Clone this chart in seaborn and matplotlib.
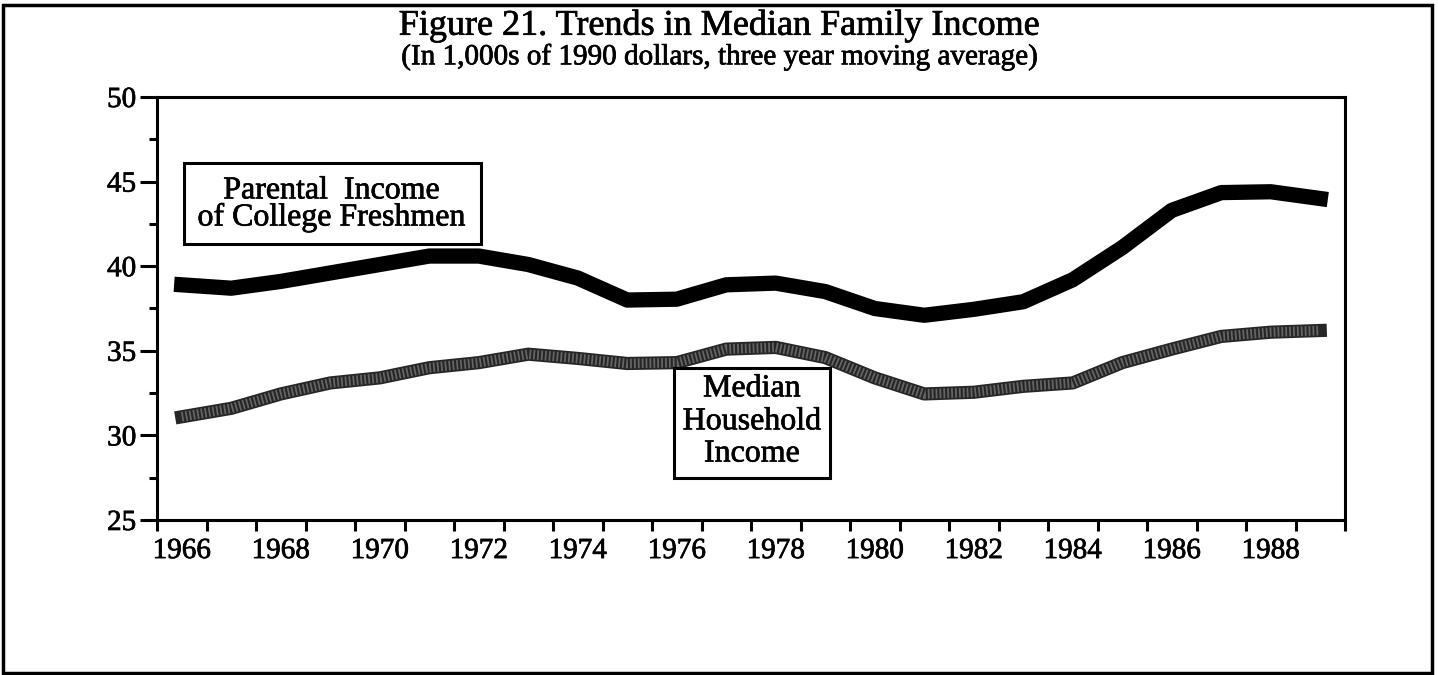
import numpy as np
import matplotlib
matplotlib.use("Agg")
import matplotlib.pyplot as plt
import matplotlib.patheffects as pe
import seaborn as sns
from matplotlib.patches import Rectangle

# values (1,000s of 1990 dollars)
years = list(range(1966, 1990))
parental_income = [38.9, 38.7, 39.1, 39.6, 40.1, 40.6, 40.6, 40.1, 39.3, 38.0,
                   38.05, 38.9, 39.0, 38.5, 37.5, 37.1, 37.45, 37.9, 39.2, 41.1,
                   43.3, 44.35, 44.4, 44.0]
household_income = [31.1, 31.6, 32.45, 33.1, 33.4, 34.0, 34.3, 34.8, 34.55, 34.25,
                     34.3, 35.1, 35.2, 34.6, 33.4, 32.45, 32.55, 32.9, 33.1, 34.3,
                     35.1, 35.85, 36.1, 36.2]
year_labels = ["1966", "1968", "1970", "1972", "1974", "1976",
               "1978", "1980", "1982", "1984", "1986", "1988"]
y_ticks = [25, 30, 35, 40, 45, 50]

sns.set_style("white")
plt.rcParams['font.family'] = ['Liberation Serif', 'DejaVu Serif']
plt.rcParams['text.color'] = 'black'
plt.rcParams['xtick.color'] = 'black'
plt.rcParams['ytick.color'] = 'black'

# slightly thicker glyphs, closer to the photocopied type
heavy = [pe.withStroke(linewidth=0.5, foreground='black')]

fig = plt.figure(figsize=(14.38, 6.75), dpi=100)
ax = fig.add_axes([157 / 1438, 1 - 520 / 675, 1188 / 1438, 423 / 675])

# household line: dark ribbon with a fine hatch on top
sns.lineplot(x=years, y=household_income, ax=ax, color='#262626',
             linewidth=9.5, solid_capstyle='projecting', zorder=2)
sns.lineplot(x=years, y=household_income, ax=ax, color='#666666',
             linewidth=7, linestyle=(0, (0.18, 0.22)), zorder=2.5)
sns.lineplot(x=years, y=parental_income, ax=ax, color='black',
             linewidth=11, solid_capstyle='projecting', zorder=3)

ax.set_xlim(1965.5, 1989.5)
ax.set_ylim(25, 50)

# year boundaries get the tick marks, labels sit in the middle of each year
ax.set_xticks(np.arange(1965.5, 1990, 1))
ax.set_xticklabels([])
ax.set_xticks([int(l) for l in year_labels], minor=True)
ax.set_xticklabels(year_labels, minor=True)
ax.tick_params(axis='x', which='major', direction='out', length=8, width=2.2,
               bottom=True, top=False)
ax.tick_params(axis='x', which='minor', length=0, labelsize=21, pad=13)

ax.set_yticks(y_ticks)
ax.set_yticks(np.arange(27.5, 50, 5), minor=True)
ax.tick_params(axis='y', which='major', direction='out', length=12, width=2.2,
               labelsize=21, pad=3, left=True, right=False)
ax.tick_params(axis='y', which='minor', direction='out', length=6, width=2.2,
               left=True, right=False)

for lab in ax.get_xticklabels(minor=True) + ax.get_yticklabels():
    lab.set_path_effects(heavy)

for side in ['left', 'right', 'top', 'bottom']:
    ax.spines[side].set_visible(True)
    ax.spines[side].set_linewidth(2.2)
    ax.spines[side].set_color('black')

ax.set_xlabel('')
ax.set_ylabel('')

# label boxes
ax.add_patch(Rectangle((1966.04, 41.3), 6.0, 4.82, facecolor='white',
                       edgecolor='black', linewidth=2.2, zorder=4))
ax.text(1969.03, 44.45, 'Parental  Income', ha='center', va='center',
        fontsize=23, zorder=5, path_effects=heavy)
ax.text(1969.03, 42.85, 'of College Freshmen', ha='center', va='center',
        fontsize=23, zorder=5, path_effects=heavy)

ax.add_patch(Rectangle((1975.94, 27.5), 3.15, 6.5, facecolor='white',
                       edgecolor='black', linewidth=2.2, zorder=4))
ax.text(1977.52, 32.75, 'Median', ha='center', va='center', fontsize=23,
        zorder=5, path_effects=heavy)
ax.text(1977.52, 30.8, 'Household', ha='center', va='center', fontsize=23,
        zorder=5, path_effects=heavy)
ax.text(1977.52, 28.9, 'Income', ha='center', va='center', fontsize=23,
        zorder=5, path_effects=heavy)

fig.text(0.5, 1 - 26 / 675, 'Figure 21. Trends in Median Family Income',
         ha='center', va='center', fontsize=26, path_effects=heavy)
fig.text(0.5, 1 - 57 / 675, '(In 1,000s of 1990 dollars, three year moving average)',
         ha='center', va='center', fontsize=21, path_effects=heavy)

# outer frame round the whole figure
fig.add_artist(Rectangle((3 / 1438, 2 / 675), 1429 / 1438, 668 / 675,
                         transform=fig.transFigure, fill=False,
                         edgecolor='black', linewidth=2.5))

fig.savefig('out.png', dpi=100)
